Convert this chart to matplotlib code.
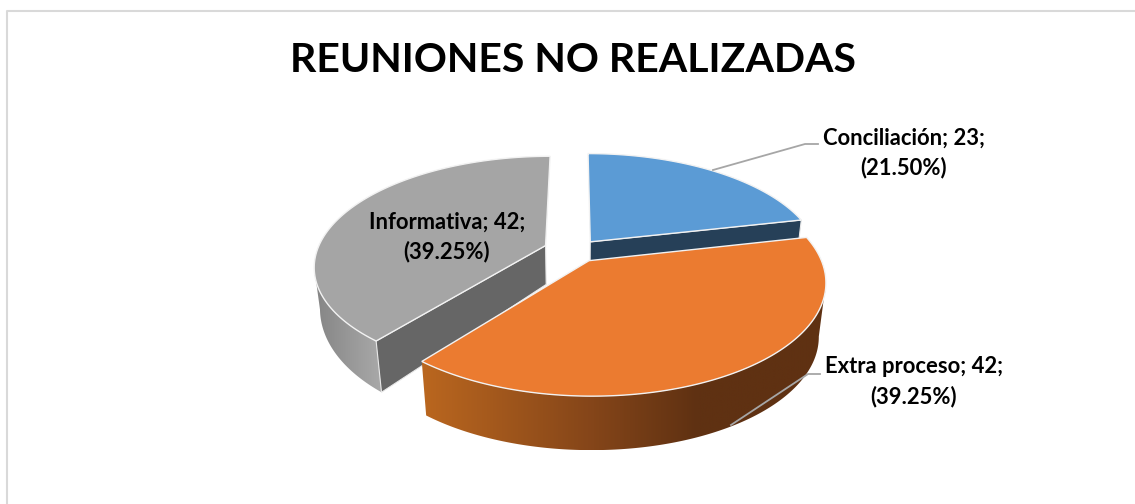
import numpy as np
import matplotlib
matplotlib.use("Agg")
import matplotlib.pyplot as plt
from matplotlib.colors import LinearSegmentedColormap
from matplotlib.patches import Polygon

title = "REUNIONES NO REALIZADAS"
categories = ["Conciliación", "Extra proceso", "Informativa"]
values = [23, 42, 42]

# look of each slice
top_colors = ["#5B9BD5", "#EB7B30", "#A5A5A5"]
cut_colors = ["#264058", "#5F3112", "#666666"]
explode = [0.105, 0.11, 0.14]
depths = [(21, 0), (54, 0), (39.6, 0.4)]
side_maps = [
    None,
    LinearSegmentedColormap.from_list("o", [(0, "#B9661F"), (0.42, "#844519"), (0.68, "#5F3112"), (1, "#5F3112")]),
    LinearSegmentedColormap.from_list("g", ["#858585", "#ABABAB"]),
]
side_range = [None, (425, 825), (315, 385)]

# perspective of the pie, in pixels
cx, cy = 575.5, 250.5
R, A, k = 228.5, 107, 0.18


def project(u, w):
    s = 1 - k * w
    return cx + R * u / s, cy + A * w / s


def lower(x, y, d, g, w):
    # the walls lean in a bit towards the pie centre
    h = d * (1 + g * w)
    return x - (x - cx) * h / 1900, y + h


fig = plt.figure(figsize=(11.35, 5.04), dpi=100)
ax = fig.add_axes([0, 0, 1, 1])

plt.rcParams["font.family"] = ["Lato", "DejaVu Sans"]

# chart frame
ax.plot([7, 7, 1135], [504, 11, 11], color="#D9D9D9", lw=1.5)

total = sum(values)
ends = np.cumsum(values) / total * 2 * np.pi
starts = ends - np.array(values) / total * 2 * np.pi

for i in [0, 2, 1]:
    mid = (starts[i] + ends[i]) / 2
    ou, ow = explode[i] * np.sin(mid), -explode[i] * np.cos(mid)
    t = np.linspace(starts[i], ends[i], 300)
    u = ou + np.sin(t)
    w = ow - np.cos(t)
    x, y = project(u, w)
    d, g = depths[i]
    xb, yb = lower(x, y, d, g, w)
    ax_, ay_ = project(ou, ow)
    axb, ayb = lower(ax_, ay_, d, g, ow)
    z = 3 if i == 1 else 1

    # outer wall, colour follows x. only the front part of the arc shows
    if side_maps[i] is not None:
        if i == 1:
            keep = np.arange(np.argmax(x), len(x))
        else:
            keep = np.arange(0, np.argmin(x) + 1)
        wall = np.column_stack([np.r_[x[keep], xb[keep][::-1]], np.r_[y[keep], yb[keep][::-1]]])
        lo, hi = side_range[i]
        x0, x1 = wall[:, 0].min(), wall[:, 0].max()
        y0, y1 = wall[:, 1].min(), wall[:, 1].max()
        grad = np.clip((np.linspace(x0, x1, 512) - lo) / (hi - lo), 0, 1).reshape(1, -1)
        im = ax.imshow(grad, cmap=side_maps[i], vmin=0, vmax=1, extent=(x0, x1, y1, y0), aspect="auto", zorder=z)
        clip = Polygon(wall, fc="none", ec="none", transform=ax.transData)
        ax.add_patch(clip)
        im.set_clip_path(clip)

    # cut face
    j = -1 if i == 0 else 0
    if i != 1:
        cut = [(ax_, ay_), (x[j], y[j]), (xb[j], yb[j]), (axb, ayb)]
        ax.add_patch(Polygon(cut, fc=cut_colors[i], ec="#E8E8E8", lw=0.8, zorder=z + 1))

    # top face
    top = np.column_stack([np.r_[ax_, x], np.r_[ay_, y]])
    ax.add_patch(Polygon(top, fc=top_colors[i], ec="#F2F2F2", lw=1, zorder=z + 1))

ax.set_xlim(0, 1135)
ax.set_ylim(504, 0)
ax.axis("off")

# leader lines
ax.plot([713, 805, 818], [170, 144, 144], color="#A6A6A6", lw=1.3, zorder=5)
ax.plot([731, 808, 820], [425, 374, 374], color="#A6A6A6", lw=1.3, zorder=5)

ax.text(573, 61, title, ha="center", va="center", fontsize=29.5, fontweight="bold", color="black", zorder=6)

label_pos = [(904, 153), (914, 382), (447, 237)]
for name, v, (lx, ly) in zip(categories, values, label_pos):
    txt = f"{name}; {v};\n({v / total * 100:.2f}%)"
    ax.text(lx, ly, txt, ha="center", va="center", fontsize=15.8, fontweight="bold",
            color="black", linespacing=1.5, zorder=6)

fig.savefig("out.png", dpi=100)
